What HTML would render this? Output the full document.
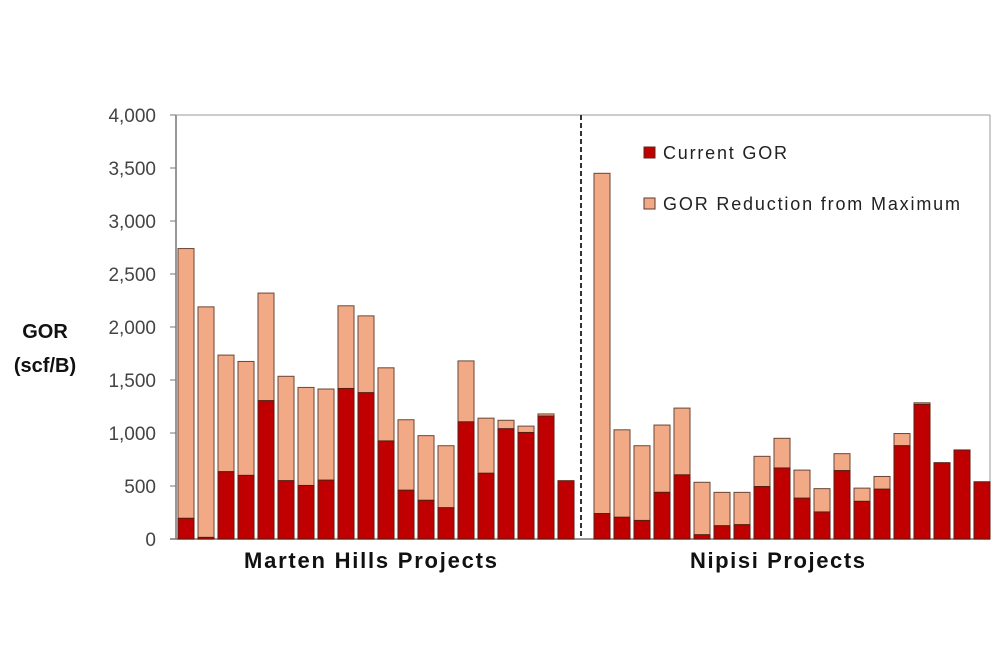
<!DOCTYPE html>
<html><head><meta charset="utf-8"><style>
body{margin:0;background:#fff}
svg{display:block;font-family:"Liberation Sans",sans-serif}
</style></head><body>
<svg id="chart" width="1000" height="667" viewBox="0 0 1000 667">
<g id="axes"></g><g id="bars"></g>
<line x1="581" y1="115" x2="581" y2="539" stroke="#333" stroke-width="2" stroke-dasharray="5,3"/>
<text x="45" y="338" font-size="20" font-weight="bold" text-anchor="middle" fill="#111">GOR</text>
<text x="45" y="372" font-size="20" font-weight="bold" text-anchor="middle" fill="#111">(scf/B)</text>
<text x="244" y="568" font-size="22" font-weight="bold" fill="#111" textLength="253">Marten Hills Projects</text>
<text x="690" y="568" font-size="22" font-weight="bold" fill="#111" textLength="175">Nipisi Projects</text>
<g>
<rect x="644" y="147" width="11" height="11" fill="#c00000" stroke="#5a2a20"/>
<text x="663" y="159" font-size="18" fill="#222" textLength="124">Current GOR</text>
<rect x="644" y="198" width="11" height="11" fill="#f2aa86" stroke="#5a3a30"/>
<text x="663" y="210" font-size="18" fill="#222" textLength="297">GOR Reduction from Maximum</text>
</g>
</svg>
<script>
const yTicks=[0,500,1000,1500,2000,2500,3000,3500,4000];
const mhTotal=[2740,2190,1735,1675,2320,1535,1430,1415,2200,2105,1615,1125,975,880,1680,1140,1120,1065,1180,550];
const mhCurrent=[195,15,635,600,1305,550,505,555,1420,1380,925,460,365,295,1105,620,1040,1005,1160,550];
const npTotal=[3450,1030,880,1075,1235,535,440,440,780,950,650,475,805,480,590,995,1285,720,840,540];
const npCurrent=[240,205,175,440,605,40,125,135,495,670,385,255,645,355,470,880,1270,720,840,540];
const NS="http://www.w3.org/2000/svg";
const y=v=>539-v*424/4000;
function mk(t,a,p){const e=document.createElementNS(NS,t);for(const k in a)e.setAttribute(k,a[k]);p.appendChild(e);return e;}
const ax=document.getElementById('axes'),bg=document.getElementById('bars');
const axl=mk('line',{x1:176,y1:115,x2:176,y2:539,stroke:'#777','stroke-width':1.5},ax);


const bl=mk('line',{x1:170,y1:539,x2:990,y2:539,stroke:'#777','stroke-width':1.5},ax);


const rl=mk('line',{x1:990,y1:115,x2:990,y2:539,stroke:'#999','stroke-width':1},ax);


const tl=mk('line',{x1:176,y1:115,x2:990,y2:115,stroke:'#999','stroke-width':1},ax);


yTicks.forEach(v=>{
 const t=mk('line',{x1:170,y1:y(v),x2:176,y2:y(v),stroke:'#777'},ax);
 
 
 const l=mk('text',{x:156,y:y(v)+7,'font-size':19,'text-anchor':'end',fill:'#444'},ax);
 l.textContent=v.toLocaleString('en-US');
 
 
});
function group(tot,cur,x0,name){
 tot.forEach((T,i)=>{
  const x=x0+20*i-8,c=cur[i];
  const r=mk('rect',{x:x,y:y(T),width:16,height:y(c)-y(T),fill:'#f2aa86',stroke:'#6a4535','stroke-width':1},bg);
  
  
  const b=mk('rect',{x:x,y:y(c),width:16,height:539-y(c),fill:'#c00000',stroke:'#5a1a10','stroke-width':1},bg);
  
  
 });
}
group(mhTotal,mhCurrent,186,'marten-hills');
group(npTotal,npCurrent,602,'nipisi');
</script>
</body></html>
